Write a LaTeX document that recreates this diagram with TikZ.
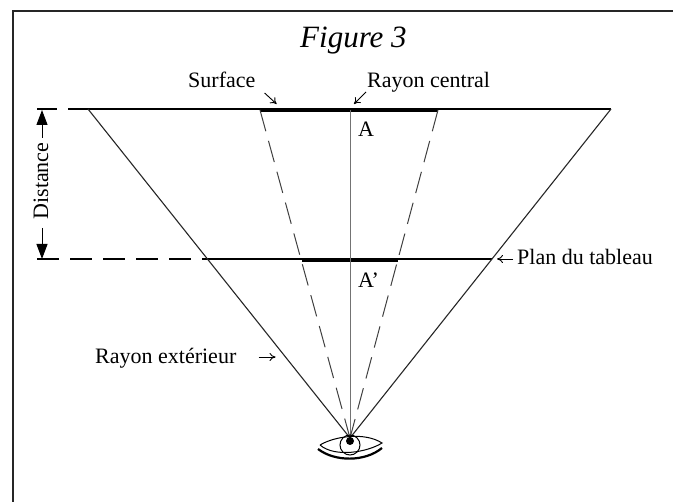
\documentclass[tikz,border=0pt]{standalone}
\usepackage{fontspec}
\setmainfont{Liberation Serif}
\usetikzlibrary{arrows.meta, calc}

\begin{document}
\begin{tikzpicture}[
    x=1pt, y=-1pt,
    font=\fontsize{22}{25}\selectfont,
    label/.style={
        anchor=base west, inner sep=0pt
    },
    ray/.style={
        line width=1.1pt, draw=black!85
    },
    dashray/.style={
        line width=1pt, draw=black!75, dash pattern=on 22pt off 10pt
    },
    plane/.style={
        line width=1.6pt
    },
    bar/.style={
        line width=4.5pt
    },
    pointer/.style={
        -{To[length=6pt, width=8pt]}, line width=0.9pt
    },
    measure/.style={
        -{Stealth[length=15pt, width=11pt, inset=0pt]}, line width=1pt
    }
]
\useasboundingbox (0,0) rectangle (673,502);

% --- frame, open on two sides ---
\draw[line width=1.3pt, draw=black!85] (13,502) -- (13,11) -- (673,11);

% --- title and labels ---
\node[label, font=\fontsize{31}{34}\selectfont\itshape] (title) at (300,48) {Figure 3};
\node[label] (surface) at (188,88) {Surface};
\node[label] (central) at (367,88) {Rayon central};
\node[label] (pointA) at (358,137) {A};
\node[label] (pointB) at (358,288) {A’};
\node[label] (plan) at (517,265) {Plan du tableau};
\node[label] (exterior) at (95,364) {Rayon extérieur};
\node[rotate=90, anchor=base, inner sep=1pt] (distance) at (48,181) {Distance};

% --- named points ---
\coordinate (eye) at (350,438);
\coordinate (topleft) at (88,109);
\coordinate (topright) at (611,109);
\coordinate (planleft) at ($(topleft)!0.4559!(eye)$);
\coordinate (planright) at ($(topright)!0.4559!(eye)$);
\coordinate (tickA) at (37,109);
\coordinate (tickB) at (37,259);
\coordinate (barAl) at (260,110);
\coordinate (barAr) at (438,110);
\coordinate (barBl) at (302,260);
\coordinate (barBr) at (398,260);
\coordinate (centertop) at (350,110);

% --- planes ---
\draw[plane] (topleft) -- (topright);
\draw[plane, dash pattern=on 20pt off 11pt] (tickA) -- (topleft);
\draw[plane, dash pattern=on 22pt off 11pt] (tickB) -- (planleft |- tickB);
\draw[plane] (planleft |- tickB) -- (planright |- tickB);
\draw[bar] (barAl) -- (barAr);
\draw[bar] (barBl) -- (barBr);

% --- rays ---
\draw[ray] (topleft) -- (eye);
\draw[ray] (topright) -- (eye);
\draw[line width=1pt, draw=black!55] (centertop) -- (eye);
\draw[dashray] (barAl) -- (eye);
\draw[dashray] (barAr) -- (eye);

% --- eye ---
\draw[line width=1pt] (320,445) .. controls (335,436) and (365,432) .. (382,443)
    .. controls (368,452) and (335,458) .. (320,445);
\draw[line width=1pt] (350,445) circle[radius=10];
\draw[line width=2.2pt] (318,449) .. controls (335,462) and (365,462) .. (382,448);
\fill (350,441) circle[radius=4];

% --- pointers ---
\draw[pointer] ($(surface.base east)+(9,5)$) -- ($(surface.base east)+(21,16)$);
\draw[pointer] ($(central.base west)+(-1,4)$) -- ($(central.base west)+(-13,16)$);
\draw[pointer] (plan.west |- tickB) ++(-4,0) -- (497,259);
\draw[pointer] ($(exterior.base east)+(22,-7)$) -- ($(exterior.base east)+(39,-7)$);

% --- distance arrows ---
\draw[measure] (42,138) -- (42,110);
\draw[measure] (42,228) -- (42,259);

\end{tikzpicture}
\end{document}
